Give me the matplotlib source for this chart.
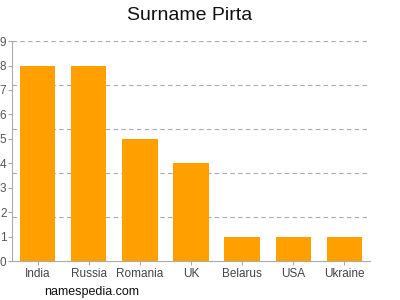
import matplotlib
matplotlib.use("Agg")
import matplotlib.pyplot as plt
import numpy as np

plt.rcParams['font.family'] = ['Liberation Sans', 'DejaVu Sans']

categories = ["India", "Russia", "Romania", "UK", "Belarus", "USA", "Ukraine"]
values = [8, 8, 5, 4, 1, 1, 1]
yticks = list(range(0, 10))

fig = plt.figure(figsize=(4, 3), dpi=100)
ax = fig.add_axes([0.03, 0.13, 0.895, 0.733])
x = np.arange(len(categories))
ax.bar(x, values, width=0.69, color="#ffa000", zorder=2)
ax.set_xlim(-0.5, len(categories) - 0.5)
ax.set_ylim(0, 9)
ax.set_yticks(yticks)
ax.set_yticklabels([str(t) for t in yticks], fontsize=8.5, color="#555555")
ax.set_xticks(x)
ax.set_xticklabels(categories, fontsize=8.5, color="#444444")
for g in np.arange(1.8, 9.01, 1.8):
    ax.axhline(g, color="#aaaaaa", linestyle=(0, (4, 3)), linewidth=0.8, zorder=1)
for s in ["top", "right"]:
    ax.spines[s].set_visible(False)
ax.spines["left"].set_color("#aaaaaa")
ax.spines["bottom"].set_color("#aaaaaa")
ax.tick_params(axis="y", length=3, color="#aaaaaa", pad=1)
ax.tick_params(axis="x", length=3, color="#aaaaaa", pad=2)
fig.text(0.475, 0.95, "Surname Pirta", ha="center", va="center", fontsize=14, color="#111111")
fig.text(0.11, 0.027, "namespedia.com", ha="left", va="center", fontsize=9, color="#111111")
fig.savefig("out.png", dpi=100)
